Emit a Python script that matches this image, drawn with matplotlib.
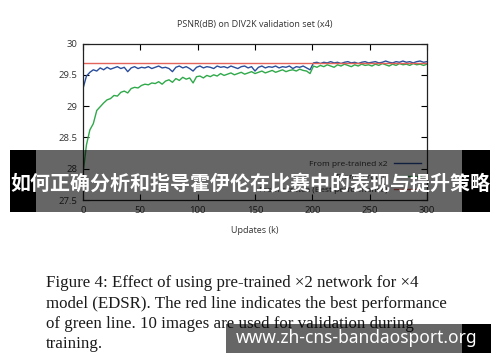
import numpy as np
import matplotlib
matplotlib.use("Agg")
import matplotlib.pyplot as plt
from matplotlib.patches import Rectangle

updates_k = list(range(0, 301, 3))
pretrained_x2 = [
    29.28, 29.48, 29.54, 29.58, 29.56, 29.61, 29.58, 29.62, 29.59, 29.61,
    29.63, 29.60, 29.62, 29.55, 29.61, 29.63, 29.60, 29.62, 29.61, 29.63,
    29.60, 29.62, 29.64, 29.61, 29.62, 29.60, 29.55, 29.62, 29.64, 29.61,
    29.63, 29.60, 29.56, 29.62, 29.64, 29.61, 29.63, 29.62, 29.60, 29.64,
    29.62, 29.63, 29.61, 29.64, 29.62, 29.60, 29.63, 29.64, 29.61, 29.63,
    29.56, 29.62, 29.64, 29.61, 29.63, 29.62, 29.64, 29.61, 29.63, 29.62,
    29.64, 29.60, 29.63, 29.62, 29.64, 29.61, 29.58, 29.69, 29.70, 29.68,
    29.70, 29.69, 29.71, 29.69, 29.70, 29.68, 29.70, 29.71, 29.69, 29.70,
    29.68, 29.70, 29.71, 29.69, 29.70, 29.71, 29.69, 29.70, 29.72, 29.70,
    29.69, 29.71, 29.70, 29.72, 29.70, 29.71, 29.69, 29.71, 29.72, 29.70,
    29.71]
from_scratch = [
    27.92, 28.38, 28.62, 28.72, 28.93, 28.99, 29.05, 29.10, 29.12, 29.17,
    29.16, 29.22, 29.24, 29.21, 29.28, 29.30, 29.29, 29.33, 29.35, 29.34,
    29.37, 29.36, 29.39, 29.35, 29.40, 29.42, 29.38, 29.44, 29.41, 29.46,
    29.43, 29.45, 29.37, 29.47, 29.48, 29.45, 29.49, 29.47, 29.50, 29.48,
    29.52, 29.49, 29.51, 29.53, 29.50, 29.52, 29.54, 29.51, 29.53, 29.55,
    29.52, 29.54, 29.56, 29.53, 29.55, 29.57, 29.54, 29.56, 29.58, 29.55,
    29.57, 29.58, 29.56, 29.59, 29.57, 29.56, 29.52, 29.64, 29.62, 29.65,
    29.63, 29.66, 29.64, 29.62, 29.66, 29.64, 29.67, 29.65, 29.63, 29.66,
    29.64, 29.67, 29.65, 29.66, 29.64, 29.67, 29.65, 29.68, 29.66, 29.64,
    29.67, 29.65, 29.68, 29.66, 29.67, 29.65, 29.68, 29.66, 29.67, 29.65,
    29.67]
best_scratch = 29.685
x_ticks = [0, 50, 100, 150, 200, 250, 300]
y_ticks = [27.5, 28, 28.5, 29, 29.5, 30]
y_tick_labels = ["27.5", "28", "28.5", "29", "29.5", "30"]
legend_labels = ["From pre-trained x2", "From scratch", "From scratch (Best performance)"]
title = "PSNR(dB) on DIV2K validation set (x4)"
xlabel = "Updates (k)"
caption_lines = [
    "Figure 4: Effect of using pre-trained \u00d72 network for \u00d74",
    "model (EDSR). The red line indicates the best performance",
    "of green line. 10 images are used for validation during",
    "training.",
]
banner_text = "如何正确分析和指导霍伊伦在比赛中的表现与提升策略"
watermark = "www.zh-cns-bandaosport.org"

W, H = 500, 362
fig = plt.figure(figsize=(W / 100, H / 100), dpi=100)
fig.patch.set_facecolor("white")

def fx(px):
    return px / W

def fy(py):
    return 1 - py / H

ax = fig.add_axes([fx(83), fy(200), fx(427) - fx(83), fy(43.5) - fy(200)])
ax.plot(updates_k, pretrained_x2, color="#2a4e9c", lw=1.0, label=legend_labels[0])
ax.plot(updates_k, from_scratch, color="#2fa94a", lw=1.0, label=legend_labels[1])
ax.plot([updates_k[0], updates_k[-1]], [best_scratch, best_scratch], color="#e2645a", lw=1.0,
        label=legend_labels[2])
ax.set_xlim(0, 300)
ax.set_ylim(27.5, 30)
ax.set_xticks(x_ticks)
ax.set_yticks(y_ticks)
ax.set_yticklabels(y_tick_labels)
ax.tick_params(direction="in", top=True, right=True, length=4.5, width=0.8,
               labelsize=6.8, labelcolor="#333333", pad=4)
for s in ax.spines.values():
    s.set_linewidth(0.9)
    s.set_color("#222222")
ax.set_title(title, fontsize=6.5, color="#333333", pad=12)
ax.set_xlabel(xlabel, fontsize=6.5, color="#333333", labelpad=8)
leg = ax.legend(loc="lower right", fontsize=6, frameon=False, markerfirst=False,
                handlelength=3.2, labelcolor="#333333", borderaxespad=0.35, labelspacing=0.6)
for t in ax.get_xticklabels() + ax.get_yticklabels():
    t.set_family("Open Sans")
ax.title.set_family("Open Sans")
ax.xaxis.label.set_family("Open Sans")
for t in leg.get_texts():
    t.set_family("Open Sans")

# caption
for i, line in enumerate(caption_lines):
    fig.text(fx(46), fy(287 + 20.5 * i), line, fontsize=12.2, family="Liberation Serif",
             color="#1a1a1a", ha="left", va="baseline")

# banner overlay
fig.add_artist(Rectangle((fx(10), fy(211.5)), fx(36) - fx(10), fy(150) - fy(211.5),
                         transform=fig.transFigure, facecolor="black", edgecolor="none", zorder=10))
fig.add_artist(Rectangle((fx(462), fy(211.5)), fx(490) - fx(462), fy(150) - fy(211.5),
                         transform=fig.transFigure, facecolor="black", edgecolor="none", zorder=10))
fig.add_artist(Rectangle((fx(36), fy(211.5)), fx(462) - fx(36), fy(150) - fy(211.5),
                         transform=fig.transFigure, facecolor="black", alpha=0.6,
                         edgecolor="none", zorder=10))
fig.text(fx(250), fy(183), banner_text, fontsize=14.4, color="white", fontweight="bold",
         family=["Noto Sans CJK SC", "DejaVu Sans"], ha="center", va="center", zorder=11)

# watermark box
fig.add_artist(Rectangle((fx(462), fy(353)), fx(491) - fx(462), fy(324) - fy(353),
                         transform=fig.transFigure, facecolor="black", edgecolor="none", zorder=10))
fig.add_artist(Rectangle((fx(226), fy(353)), fx(462) - fx(226), fy(324) - fy(353),
                         transform=fig.transFigure, facecolor="black", alpha=0.6,
                         edgecolor="none", zorder=10))
fig.text(fx(357), fy(338), watermark, fontsize=12.5, color="white", fontweight="bold",
         family="Noto Sans", ha="center", va="center", zorder=11)

fig.savefig("out.png", dpi=100)
